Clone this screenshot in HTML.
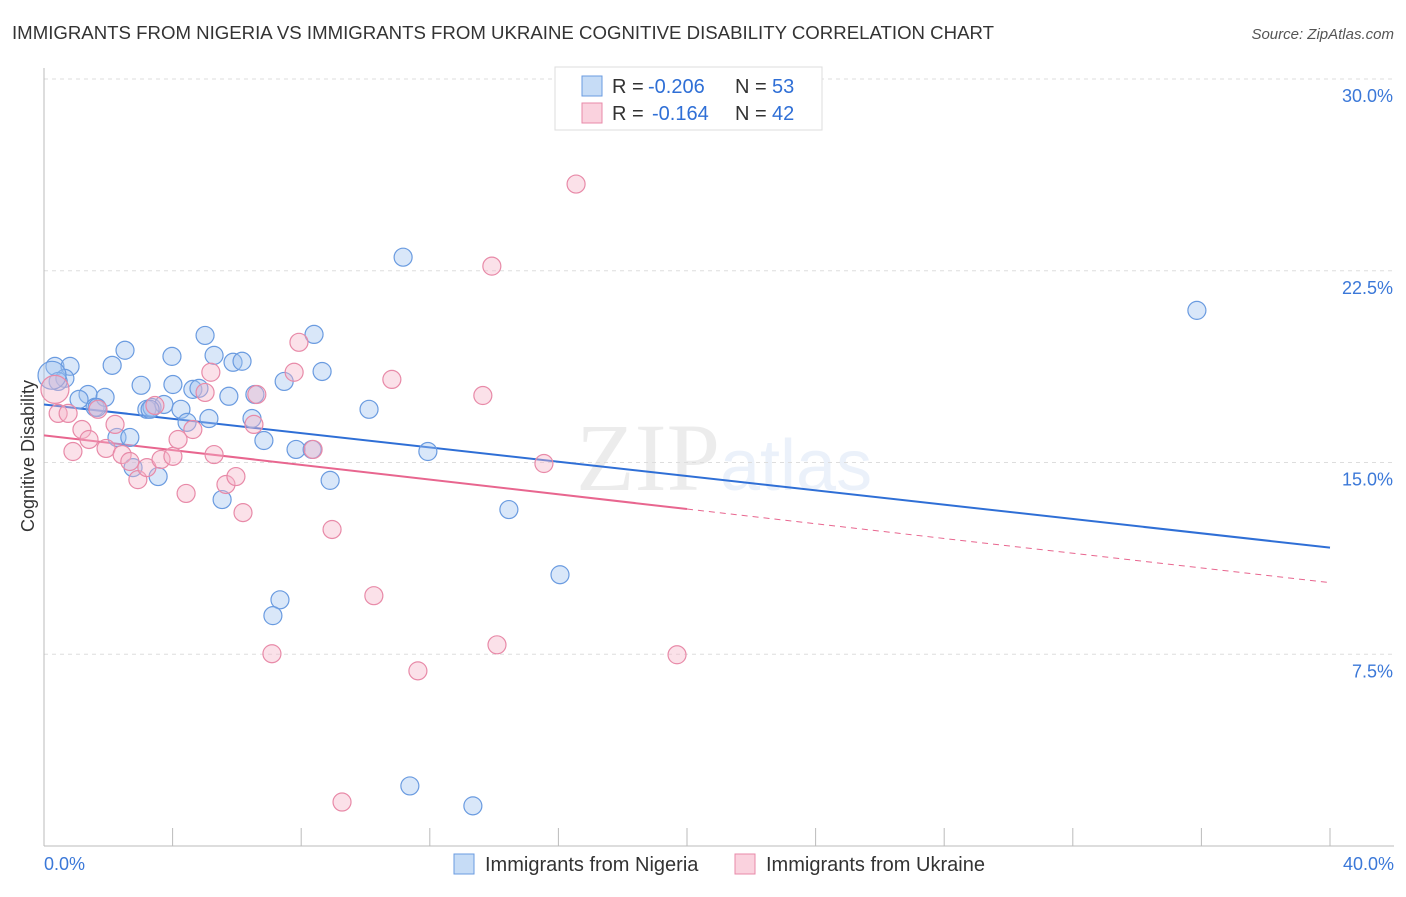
<!DOCTYPE html>
<html><head><meta charset="utf-8"><style>
body{margin:0;background:#fff;font-family:"Liberation Sans",sans-serif;}
</style></head><body>
<svg id="chart" width="1406" height="892" xmlns="http://www.w3.org/2000/svg">
<text x="12" y="39" font-size="18" fill="#333" textLength="982" lengthAdjust="spacingAndGlyphs">IMMIGRANTS FROM NIGERIA VS IMMIGRANTS FROM UKRAINE COGNITIVE DISABILITY CORRELATION CHART</text>
<text x="1394" y="39" font-size="15" fill="#555" font-style="italic" text-anchor="end">Source: ZipAtlas.com</text>
<text x="720" y="490" font-size="96" fill="#000" opacity="0.07" text-anchor="end" font-family="Liberation Serif,serif">ZIP</text>
<text x="720" y="490" font-size="72" fill="#6a9be0" opacity="0.13">atlas</text>
<text transform="translate(34,456) rotate(-90)" font-size="18" fill="#333" text-anchor="middle">Cognitive Disability</text>
<g id="grid"></g><g id="axes"></g><g id="trends"></g><g id="pts"></g>
<g>
<rect x="555" y="67" width="267" height="63" fill="#fff" stroke="#ddd"/>
<rect x="582" y="76" width="20" height="20" fill="rgba(160,196,240,0.6)" stroke="#6a9be0"/>
<text y="93" font-size="20" fill="#333"><tspan x="612">R =</tspan><tspan x="648" fill="#2f6fd6">-0.206</tspan><tspan x="735">N =</tspan><tspan x="772" fill="#2f6fd6">53</tspan></text>
<rect x="582" y="103" width="20" height="20" fill="rgba(246,180,200,0.6)" stroke="#e88aa8"/>
<text y="120" font-size="20" fill="#333"><tspan x="612">R =</tspan><tspan x="652" fill="#2f6fd6">-0.164</tspan><tspan x="735">N =</tspan><tspan x="772" fill="#2f6fd6">42</tspan></text>
</g>
<g>
<rect x="454" y="854" width="20" height="20" fill="rgba(160,196,240,0.6)" stroke="#6a9be0"/>
<text x="485" y="871" font-size="20" fill="#333">Immigrants from Nigeria</text>
<rect x="735" y="854" width="20" height="20" fill="rgba(246,180,200,0.6)" stroke="#e88aa8"/>
<text x="766" y="871" font-size="20" fill="#333">Immigrants from Ukraine</text>
</g>
</svg>
<script>
const yTicks=[7.5,15,22.5,30];
const yTickLabels=["7.5%","15.0%","22.5%","30.0%"];
const xEdgeLabels=["0.0%","40.0%"];
const nigeriaX=[0.34,0.81,0.65,0.44,0.25,1.37,1.09,1.59,1.90,2.12,2.52,3.02,3.20,3.36,3.73,3.98,4.01,4.26,4.45,4.63,4.82,5.01,5.13,5.29,5.75,5.88,6.16,6.47,6.84,7.47,7.84,8.40,8.65,8.34,8.90,10.11,11.17,11.94,14.46,16.05,7.34,7.12,5.54,3.55,2.77,2.27,2.67,1.65,11.38,13.34,35.86,6.56,3.30];
const nigeriaY=[18.76,18.76,18.29,18.17,18.41,17.66,17.47,17.16,17.55,18.80,19.39,18.02,17.08,17.15,17.27,19.15,18.05,17.08,16.57,17.86,17.90,19.97,16.72,19.19,17.59,18.92,18.96,16.72,15.86,18.17,15.51,20.01,18.56,15.51,14.30,17.08,23.03,15.43,13.16,10.61,9.63,9.01,13.55,14.45,14.80,15.98,15.98,17.15,2.35,1.57,20.95,17.66,17.08];
const ukraineX=[0.34,0.44,0.75,0.90,1.18,1.40,1.68,1.93,2.21,2.43,2.67,2.92,3.20,3.45,3.64,4.01,4.17,4.42,4.63,5.01,5.19,5.29,5.66,5.97,6.19,6.53,6.62,7.09,7.78,7.93,8.37,8.96,9.27,10.26,10.82,11.63,13.65,13.93,14.09,15.55,16.55,19.69];
const ukraineY=[17.86,16.92,16.92,15.43,16.29,15.90,17.08,15.55,16.49,15.31,15.04,14.33,14.80,17.23,15.12,15.24,15.90,13.79,16.29,17.74,18.53,15.31,14.14,14.45,13.04,16.49,17.66,7.52,18.53,19.70,15.51,12.38,1.72,9.79,18.25,6.85,17.62,22.68,7.87,14.96,25.89,7.48];
const nigeriaTrend=[17.27,11.67];
const ukraineTrend=[16.06,10.30];
const X=v=>44+v/40*1286, Y=v=>846-v/30*767;
const NS="http://www.w3.org/2000/svg";
function mk(tag,attrs,parent){const e=document.createElementNS(NS,tag);for(const k in attrs)e.setAttribute(k,attrs[k]);document.getElementById(parent).appendChild(e);return e;}
yTicks.forEach((t,i)=>{
 const g=mk('line',{x1:44,x2:1394,y1:Y(t),y2:Y(t),stroke:'#ddd','stroke-dasharray':'4,4'},'grid');
 
 
 const l=mk('text',{x:1393,y:Y(t)+23,'font-size':18,fill:'#3b78d8','text-anchor':'end'},'grid');l.textContent=yTickLabels[i];
 
 
});
let a=mk('line',{x1:44,x2:44,y1:68,y2:846,stroke:'#bbb'},'axes');


a=mk('line',{x1:44,x2:1394,y1:846,y2:846,stroke:'#bbb'},'axes');


for(let i=1;i<=10;i++){const t=mk('line',{x1:X(i*4),x2:X(i*4),y1:828,y2:846,stroke:'#bbb'},'axes');
 
 }
[[0,'start',44],[40,'end',1394]].forEach((d,i)=>{const t=mk('text',{x:d[2],y:870,'font-size':18,fill:'#3b78d8','text-anchor':d[1]},'axes');t.textContent=xEdgeLabels[i];
 
 });
let ln=mk('line',{x1:X(0),y1:Y(nigeriaTrend[0]),x2:X(40),y2:Y(nigeriaTrend[1]),stroke:'#2f6fd6','stroke-width':2},'trends');


const pm=(ukraineTrend[0]+ukraineTrend[1])/2;
ln=mk('line',{x1:X(0),y1:Y(ukraineTrend[0]),x2:X(20),y2:Y(pm),stroke:'#e8668f','stroke-width':2},'trends');


ln=mk('line',{x1:X(20),y1:Y(pm),x2:X(40),y2:Y(ukraineTrend[1]),stroke:'#e8668f','stroke-width':1,'stroke-dasharray':'6,5'},'trends');


nigeriaX.forEach((x,i)=>{const c=mk('circle',{cx:X(x),cy:Y(nigeriaY[i]),r:i==4?14:9,fill:'rgba(160,196,240,0.4)',stroke:'#6a9be0','stroke-width':1.2},'pts');
 
 });
ukraineX.forEach((x,i)=>{const c=mk('circle',{cx:X(x),cy:Y(ukraineY[i]),r:i==0?14:9,fill:'rgba(246,180,200,0.4)',stroke:'#e88aa8','stroke-width':1.2},'pts');
 
 });
</script>
</body></html>
